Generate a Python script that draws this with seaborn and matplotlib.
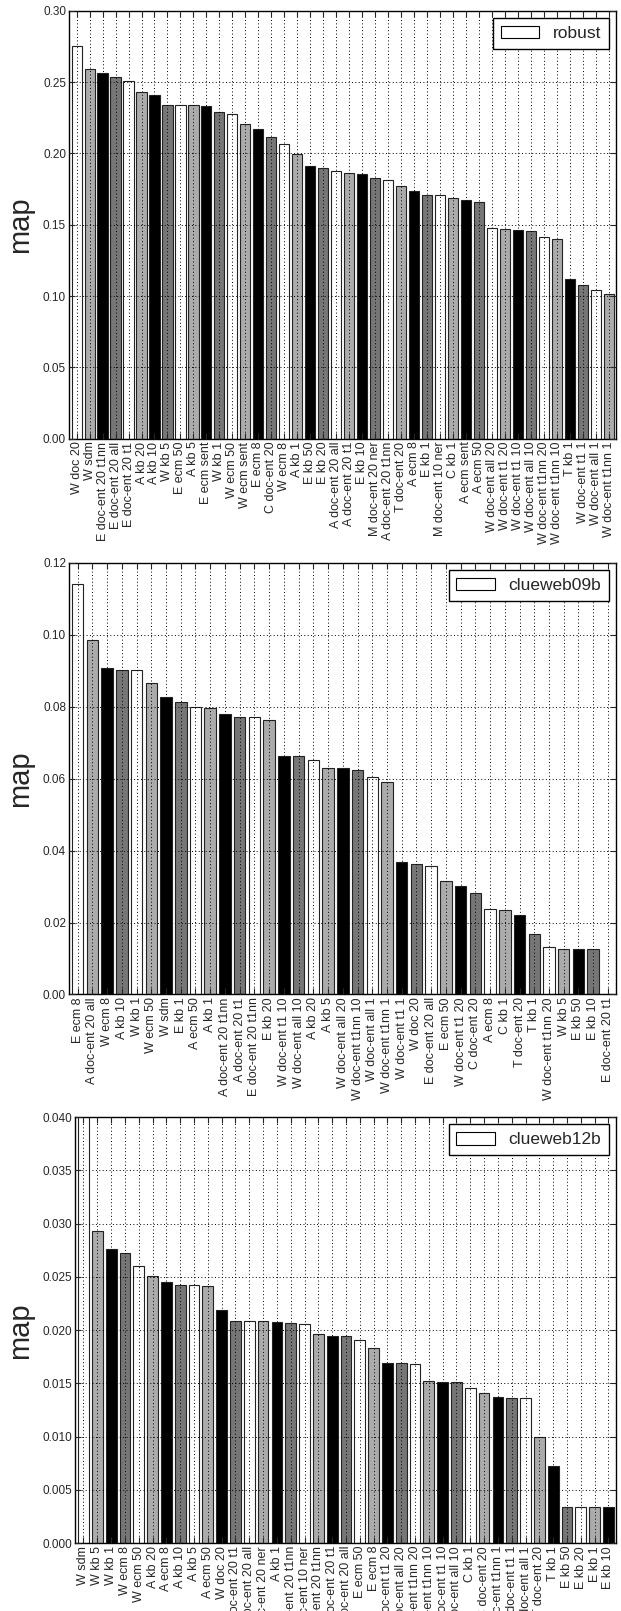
import matplotlib
matplotlib.use("Agg")
import matplotlib.pyplot as plt
import seaborn as sns
from matplotlib.patches import Patch

sns.set_style("white")
plt.rcParams['font.family'] = ['Liberation Sans', 'DejaVu Sans']

# --- data ---
robust_labels = ['W doc 20', 'W sdm', 'E doc-ent 20 t1nn', 'E doc-ent 20 all', 'E doc-ent 20 t1',
                 'A kb 20', 'A kb 10', 'W kb 5', 'E ecm 50', 'A kb 5', 'E ecm sent', 'W kb 1',
                 'W ecm 50', 'W ecm sent', 'E ecm 8', 'C doc-ent 20', 'W ecm 8', 'A kb 1',
                 'E kb 50', 'E kb 20', 'A doc-ent 20 all', 'A doc-ent 20 t1', 'E kb 10',
                 'M doc-ent 20 ner', 'A doc-ent 20 t1nn', 'T doc-ent 20', 'A ecm 8', 'E kb 1',
                 'M doc-ent 10 ner', 'C kb 1', 'A ecm sent', 'A ecm 50', 'W doc-ent all 20',
                 'W doc-ent t1 20', 'W doc-ent t1 10', 'W doc-ent all 10', 'W doc-ent t1nn 20',
                 'W doc-ent t1nn 10', 'T kb 1', 'W doc-ent t1 1', 'W doc-ent all 1', 'W doc-ent t1nn 1']
robust_map = [0.275, 0.259, 0.2563, 0.2534, 0.2506, 0.2428, 0.2408, 0.2342, 0.2341, 0.2340,
              0.2335, 0.2288, 0.2278, 0.2209, 0.2173, 0.2114, 0.2069, 0.1993, 0.1909, 0.1901,
              0.1875, 0.1861, 0.1854, 0.1830, 0.1816, 0.1773, 0.1740, 0.1711, 0.1707, 0.1688,
              0.1676, 0.1657, 0.1481, 0.1469, 0.1464, 0.1455, 0.1412, 0.1398, 0.1121, 0.1078,
              0.1045, 0.1012]

cw09_labels = ['E ecm 8', 'A doc-ent 20 all', 'W ecm 8', 'A kb 10', 'W kb 1', 'W ecm 50', 'W sdm',
               'E kb 1', 'A ecm 50', 'A kb 1', 'A doc-ent 20 t1nn', 'A doc-ent 20 t1',
               'E doc-ent 20 t1nn', 'E kb 20', 'W doc-ent t1 10', 'W doc-ent all 10', 'A kb 20',
               'A kb 5', 'W doc-ent all 20', 'W doc-ent t1nn 10', 'W doc-ent all 1',
               'W doc-ent t1nn 1', 'W doc-ent t1 1', 'W doc 20', 'E doc-ent 20 all', 'E ecm 50',
               'W doc-ent t1 20', 'C doc-ent 20', 'A ecm 8', 'C kb 1', 'T doc-ent 20', 'T kb 1',
               'W doc-ent t1nn 20', 'W kb 5', 'E kb 50', 'E kb 10', 'E doc-ent 20 t1']
cw09_map = [0.1140, 0.0986, 0.0907, 0.0903, 0.0902, 0.0867, 0.0826, 0.0813, 0.0800, 0.0797,
            0.0780, 0.0771, 0.0771, 0.0763, 0.0662, 0.0662, 0.0652, 0.0630, 0.0631, 0.0623,
            0.0606, 0.0592, 0.0369, 0.0363, 0.0357, 0.0315, 0.0301, 0.0282, 0.0239, 0.0236,
            0.0222, 0.0168, 0.0133, 0.0127, 0.0127, 0.0127, 0.0]

cw12_labels = ['W sdm', 'W kb 5', 'W kb 1', 'W ecm 8', 'W ecm 50', 'A kb 20', 'A ecm 8', 'A kb 10',
               'A kb 5', 'A ecm 50', 'W doc 20', 'E doc-ent 20 t1', 'E doc-ent 20 all',
               'M doc-ent 20 ner', 'A kb 1', 'A doc-ent 20 t1nn', 'M doc-ent 10 ner',
               'E doc-ent 20 t1nn', 'A doc-ent 20 t1', 'A doc-ent 20 all', 'E ecm 50', 'E ecm 8',
               'W doc-ent t1 20', 'W doc-ent all 20', 'W doc-ent t1nn 20', 'W doc-ent t1nn 10',
               'W doc-ent t1 10', 'W doc-ent all 10', 'C kb 1', 'C doc-ent 20', 'W doc-ent t1nn 1',
               'W doc-ent t1 1', 'W doc-ent all 1', 'T doc-ent 20', 'T kb 1', 'E kb 50', 'E kb 20',
               'E kb 1', 'E kb 10']
cw12_map = [0.0450, 0.02933, 0.02766, 0.02724, 0.02601, 0.02506, 0.02452, 0.02429, 0.02426,
            0.02413, 0.02192, 0.02090, 0.02090, 0.02083, 0.02077, 0.02071, 0.02061, 0.01968,
            0.01949, 0.01946, 0.01904, 0.01830, 0.01696, 0.01696, 0.01683, 0.01522, 0.01510,
            0.01510, 0.01455, 0.01413, 0.01369, 0.01359, 0.01359, 0.00994, 0.00724, 0.00338,
            0.00338, 0.00338, 0.00338]

bar_cycle = ['#ffffff', '#ababab', '#000000', '#767676']

panels = [
    (robust_labels, robust_map, 'robust', [0.1108, 0.7276, 0.8812, 0.2657], 0.30, 0.05, '%.2f'),
    (cw09_labels, cw09_map, 'clueweb09b', [0.1108, 0.3827, 0.8812, 0.2679], 0.12, 0.02, '%.2f'),
    (cw12_labels, cw12_map, 'clueweb12b', [0.1211, 0.0421, 0.8709, 0.2644], 0.040, 0.005, '%.3f'),
]

fig = plt.figure(figsize=(6.21, 16.11), dpi=100)

for labels, vals, name, rect, ytop, ystep, fmt in panels:
    ax = fig.add_axes(rect)
    n = len(labels)
    colors = [bar_cycle[i % 4] for i in range(n)]
    sns.barplot(x=labels, y=vals, hue=labels, palette=colors, legend=False, saturation=1,
                width=0.78, edgecolor='#222222', linewidth=0.8, ax=ax)
    ax.set_xlim(-0.6, n - 0.45)
    ax.set_ylim(0, ytop)
    nt = int(round(ytop / ystep))
    yt = [i * ystep for i in range(nt + 1)]
    ax.set_yticks(yt)
    ax.set_yticklabels([fmt % v for v in yt], fontsize=8.5)
    ax.set_xticks(range(n))
    ax.set_xticklabels(labels, rotation=90, fontsize=9, ha='center', va='top')
    ax.set_axisbelow(False)
    ax.grid(True, which='major', axis='both', color='black', linestyle=(0, (1, 2.5)),
            linewidth=0.7)
    ax.tick_params(direction='in', length=4, width=0.8, top=True, right=True,
                   bottom=True, left=True, pad=2)
    for s in ax.spines.values():
        s.set_visible(True)
        s.set_color('black')
        s.set_linewidth(1.0)
    ax.set_xlabel('')
    ax.set_ylabel('map', fontsize=21, labelpad=6)
    h = Patch(facecolor='white', edgecolor='black', linewidth=0.8)
    ax.legend([h], [name], loc='upper right', fontsize=12.5, frameon=True, fancybox=False,
              edgecolor='black', framealpha=1, borderaxespad=0.4, handlelength=2.2,
              handleheight=0.75, borderpad=0.45)

fig.savefig('out.png', dpi=100)
